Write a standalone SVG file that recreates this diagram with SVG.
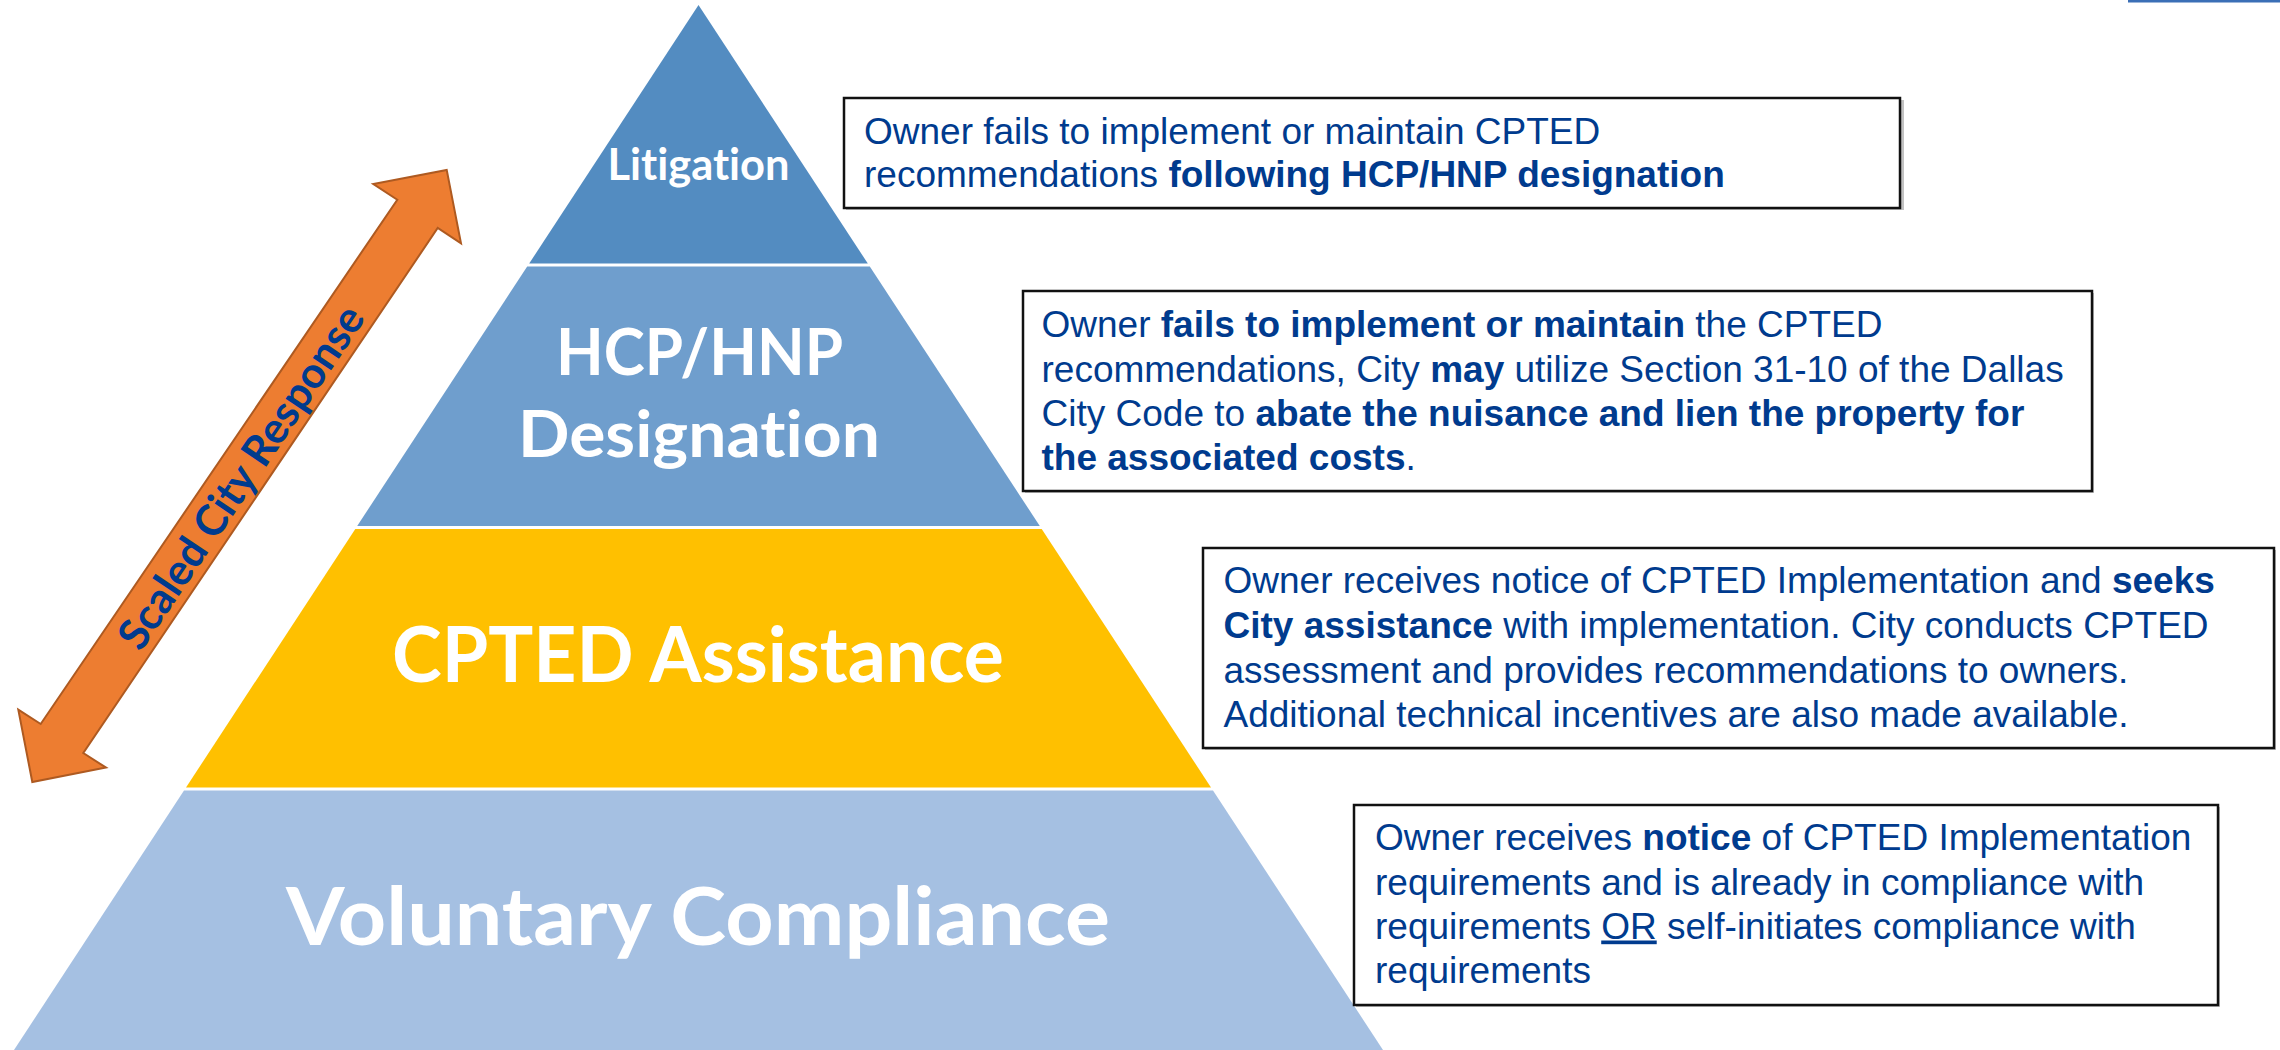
<svg xmlns="http://www.w3.org/2000/svg" width="2280" height="1050" viewBox="0 0 2280 1050">
<style>
.lvl{font-family:Lato,"Open Sans","Liberation Sans",sans-serif;font-weight:bold;fill:#FFFFFF;text-anchor:middle;font-variant-ligatures:none}
.box{fill:#FFFFFF;stroke:#111111;stroke-width:2.5}
.shadow{fill:#9A9A9A;opacity:0.6}
.desc{font-family:"Liberation Sans",Arial,sans-serif;font-size:37px;fill:#003B8E}
.b{font-weight:bold}
.arrowtxt{font-family:Lato,"Open Sans","Liberation Sans",sans-serif;font-weight:bold;fill:#003B8E;text-anchor:middle;font-variant-ligatures:none}
</style>
<rect x="0" y="0" width="2280" height="1050" fill="#FFFFFF"/>
<rect x="2128" y="0" width="152" height="2.5" fill="#3B6FB6"/>

<g id="level-litigation">
<polygon points="698.5,5 867.8,263.5 529.2,263.5" fill="#538CC1"/>
<text class="lvl" x="698.5" y="180" font-size="43" textLength="182" lengthAdjust="spacingAndGlyphs">Litigation</text>
</g>
<g id="level-hcp">
<polygon points="527.2,266.5 869.8,266.5 1039.8,526 357.2,526" fill="#6F9ECD"/>
<text class="lvl" x="699.5" y="375" font-size="65" textLength="287" lengthAdjust="spacingAndGlyphs">HCP/HNP</text>
<text class="lvl" x="699" y="457" font-size="65" textLength="362" lengthAdjust="spacingAndGlyphs">Designation</text>
</g>
<g id="level-cpted">
<polygon points="355.3,529 1041.7,529 1211,787.5 186,787.5" fill="#FFC000"/>
<text class="lvl" x="698" y="682" font-size="77" textLength="612" lengthAdjust="spacingAndGlyphs">CPTED Assistance</text>
</g>
<g id="level-voluntary">
<polygon points="184,790.5 1213,790.5 1383,1050 14,1050" fill="#A5C0E2"/>
<text class="lvl" x="698" y="945" font-size="81" textLength="824" lengthAdjust="spacingAndGlyphs">Voluntary Compliance</text>
</g>

<g id="arrow-scaled-city-response">
<polygon points="446.7,169.9 461,243.3 437.7,228 83.3,753 106,767.6 32.3,782 18.3,709.6 40.7,724 397.3,199.7 373.3,184" fill="#ED7D31" stroke="#AE5A21" stroke-width="2" stroke-linejoin="miter"/>
<text class="arrowtxt" transform="translate(241,477) rotate(-56)" x="0" y="15" font-size="43" textLength="404" lengthAdjust="spacingAndGlyphs">Scaled City Response</text>
</g>

<g id="desc-litigation">
<rect class="shadow" x="846" y="100" width="1058" height="110"/>
<rect class="box" x="844" y="98" width="1056" height="110"/>
<text class="desc" x="864" y="143.5">Owner fails to implement or maintain CPTED</text>
<text class="desc" x="864" y="187">recommendations <tspan class="b">following HCP/HNP designation</tspan></text>
</g>

<g id="desc-hcp">
<rect class="shadow" x="1025" y="293" width="1069" height="200"/>
<rect class="box" x="1023" y="291" width="1069" height="200"/>
<text class="desc" x="1041.5" y="336.5">Owner <tspan class="b">fails to implement or maintain</tspan> the CPTED</text>
<text class="desc" x="1041.5" y="381.5">recommendations, City <tspan class="b">may</tspan> utilize Section 31-10 of the Dallas</text>
<text class="desc" x="1041.5" y="426">City Code to <tspan class="b">abate the nuisance and lien the property for</tspan></text>
<text class="desc" x="1041.5" y="470"><tspan class="b">the associated costs</tspan>.</text>
</g>

<g id="desc-cpted">
<rect class="shadow" x="1205" y="550" width="1071" height="200"/>
<rect class="box" x="1203" y="548" width="1071" height="200"/>
<text class="desc" x="1223.5" y="593.3">Owner receives notice of CPTED Implementation and <tspan class="b">seeks</tspan></text>
<text class="desc" x="1223.5" y="638.3"><tspan class="b">City assistance</tspan> with implementation. City conducts CPTED</text>
<text class="desc" x="1223.5" y="683">assessment and provides recommendations to owners.</text>
<text class="desc" x="1223.5" y="727">Additional technical incentives are also made available.</text>
</g>

<g id="desc-voluntary">
<rect class="shadow" x="1356" y="807" width="864" height="200"/>
<rect class="box" x="1354" y="805" width="864" height="200"/>
<text class="desc" x="1375" y="850">Owner receives <tspan class="b">notice</tspan> of CPTED Implementation</text>
<text class="desc" x="1375" y="894.5">requirements and is already in compliance with</text>
<text class="desc" x="1375" y="938.5">requirements <tspan text-decoration="underline">OR</tspan> self-initiates compliance with</text>
<text class="desc" x="1375" y="983">requirements</text>
</g>
</svg>
